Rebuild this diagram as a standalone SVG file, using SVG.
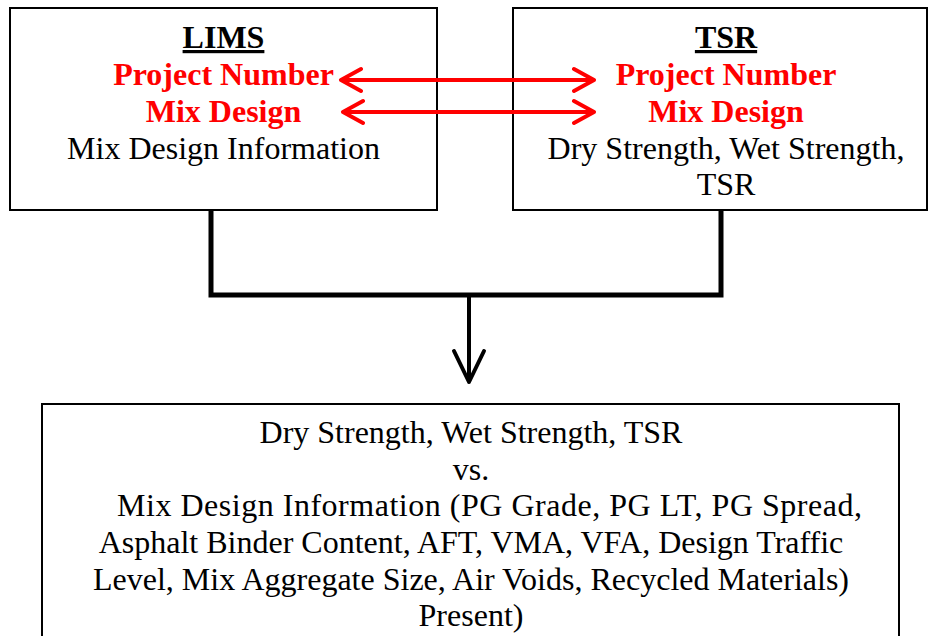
<svg xmlns="http://www.w3.org/2000/svg" width="929" height="636" viewBox="0 0 929 636">
  <style>
    .box { fill: #ffffff; stroke: #000000; stroke-width: 2; }
    .txt { font-family: "Liberation Serif", "Times New Roman", serif; font-size: 32px; text-anchor: middle; fill: #000000; }
    .title { font-weight: bold; text-decoration: underline; }
    .key { font-weight: bold; fill: #ff0000; }
    .link { fill: none; stroke: #ff0000; stroke-width: 4; stroke-linecap: round; stroke-linejoin: round; }
    .merge { fill: none; stroke: #000000; stroke-width: 5; stroke-linejoin: miter; }
    .flow { fill: none; stroke: #000000; stroke-width: 4; stroke-linecap: round; stroke-linejoin: round; }
  </style>
  <rect width="929" height="636" fill="#ffffff"/>

  <g id="lims">
    <rect class="box" x="10" y="8" width="427" height="202"/>
    <text class="txt title" x="223.5" y="48">LIMS</text>
    <text class="txt key" x="223.5" y="85">Project Number</text>
    <text class="txt key" x="223.5" y="122">Mix Design</text>
    <text class="txt" x="223.5" y="159">Mix Design Information</text>
  </g>

  <g id="tsr">
    <rect class="box" x="513" y="8" width="414" height="202"/>
    <text class="txt title" x="726" y="48">TSR</text>
    <text class="txt key" x="726" y="85">Project Number</text>
    <text class="txt key" x="726" y="122">Mix Design</text>
    <text class="txt" x="726" y="159">Dry Strength, Wet Strength,</text>
    <text class="txt" x="726" y="195">TSR</text>
  </g>

  <g id="analysis">
    <rect class="box" x="42" y="404" width="857" height="260"/>
    <text class="txt" x="471" y="443">Dry Strength, Wet Strength, TSR</text>
    <text class="txt" x="471" y="480">vs.</text>
    <text class="txt" x="117" y="516" style="text-anchor:start" textLength="745" lengthAdjust="spacing">Mix Design Information (PG Grade, PG LT, PG Spread,</text>
    <text class="txt" x="471" y="553">Asphalt Binder Content, AFT, VMA, VFA, Design Traffic</text>
    <text class="txt" x="471" y="590">Level, Mix Aggregate Size, Air Voids, Recycled Materials)</text>
    <text class="txt" x="471" y="626">Present)</text>
  </g>

  <g id="connectors">
    <!-- key links between the two sources -->
    <path class="link" d="M341,80 H594 M361,69 L341,80 L361,91 M574,69 L594,80 L574,91"/>
    <path class="link" d="M343,112 H594 M363,101 L343,112 L363,123 M574,101 L594,112 L574,123"/>
    <!-- merge of both sources -->
    <path class="merge" d="M211,210 V295 H721 V210"/>
    <path class="flow" d="M469,295 V382 M454,351 L469,382 L484,351"/>
  </g>
</svg>
